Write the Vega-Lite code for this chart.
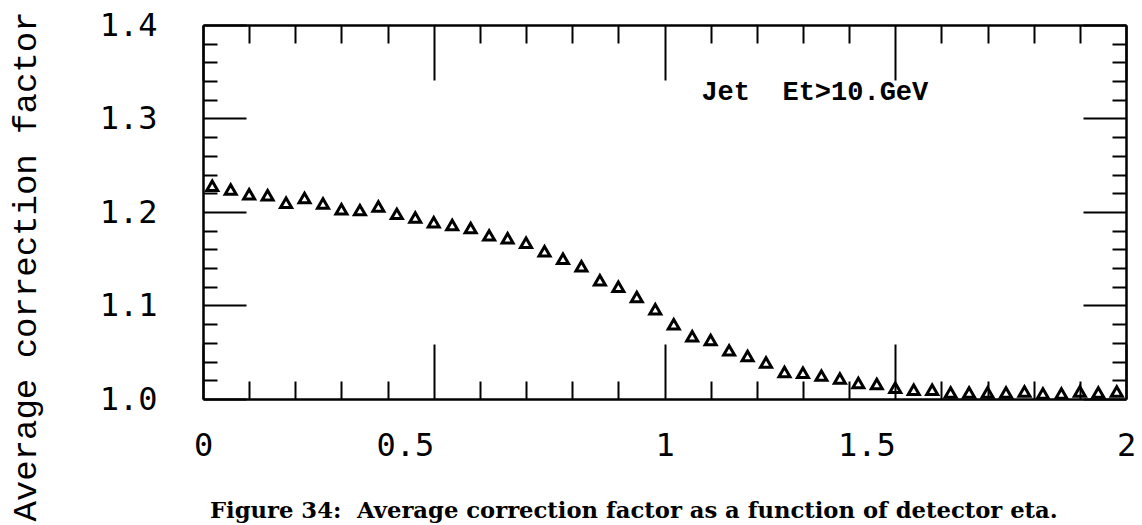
{
  "$schema": "https://vega.github.io/schema/vega-lite/v6.json",
  "width": 923,
  "height": 374,
  "autosize": "none",
  "padding": {"left": 203, "top": 25, "right": 16, "bottom": 126},
  "background": "white",
  "config": {
    "view": {"stroke": null},
    "axis": {
      "domainColor": "black",
      "domainWidth": 2.5,
      "tickColor": "black",
      "tickWidth": 2,
      "grid": false,
      "labelFont": "DejaVu Sans Mono",
      "labelFontSize": 32,
      "labelColor": "black",
      "labelOverlap": false,
      "labelFlush": false,
      "labelBound": false
    }
  },
  "title": {
    "text": "Figure 34:\u00a0 Average correction factor as a function of detector eta.",
    "orient": "bottom",
    "anchor": "start",
    "frame": "group",
    "offset": -21,
    "dx": 7,
    "font": "DejaVu Serif",
    "fontSize": 22.7,
    "fontWeight": "bold",
    "color": "black"
  },
  "datasets": {
    "pts": [
      {"eta": 0.02, "corr": 1.228},
      {"eta": 0.06, "corr": 1.224},
      {"eta": 0.10, "corr": 1.219},
      {"eta": 0.14, "corr": 1.218},
      {"eta": 0.18, "corr": 1.210},
      {"eta": 0.22, "corr": 1.215},
      {"eta": 0.26, "corr": 1.209},
      {"eta": 0.30, "corr": 1.203},
      {"eta": 0.34, "corr": 1.202},
      {"eta": 0.38, "corr": 1.206},
      {"eta": 0.42, "corr": 1.198},
      {"eta": 0.46, "corr": 1.194},
      {"eta": 0.50, "corr": 1.189},
      {"eta": 0.54, "corr": 1.186},
      {"eta": 0.58, "corr": 1.183},
      {"eta": 0.62, "corr": 1.175},
      {"eta": 0.66, "corr": 1.172},
      {"eta": 0.70, "corr": 1.167},
      {"eta": 0.74, "corr": 1.158},
      {"eta": 0.78, "corr": 1.150},
      {"eta": 0.82, "corr": 1.142},
      {"eta": 0.86, "corr": 1.127},
      {"eta": 0.90, "corr": 1.120},
      {"eta": 0.94, "corr": 1.109},
      {"eta": 0.98, "corr": 1.096},
      {"eta": 1.02, "corr": 1.080},
      {"eta": 1.06, "corr": 1.067},
      {"eta": 1.10, "corr": 1.063},
      {"eta": 1.14, "corr": 1.052},
      {"eta": 1.18, "corr": 1.046},
      {"eta": 1.22, "corr": 1.039},
      {"eta": 1.26, "corr": 1.029},
      {"eta": 1.30, "corr": 1.028},
      {"eta": 1.34, "corr": 1.025},
      {"eta": 1.38, "corr": 1.022},
      {"eta": 1.42, "corr": 1.017},
      {"eta": 1.46, "corr": 1.016},
      {"eta": 1.50, "corr": 1.012},
      {"eta": 1.54, "corr": 1.010},
      {"eta": 1.58, "corr": 1.010},
      {"eta": 1.62, "corr": 1.007},
      {"eta": 1.66, "corr": 1.007},
      {"eta": 1.70, "corr": 1.007},
      {"eta": 1.74, "corr": 1.007},
      {"eta": 1.78, "corr": 1.008},
      {"eta": 1.82, "corr": 1.006},
      {"eta": 1.86, "corr": 1.006},
      {"eta": 1.90, "corr": 1.008},
      {"eta": 1.94, "corr": 1.007},
      {"eta": 1.98, "corr": 1.008}
    ],
    "note": [
      {"eta": 1.08, "corr": 1.328, "label": "Jet\u00a0\u00a0Et>10.GeV"}
    ]
  },
  "layer": [
    {
      "data": {"name": "pts"},
      "mark": {
        "type": "point",
        "shape": "triangle-up",
        "filled": false,
        "stroke": "black",
        "strokeWidth": 3,
        "size": 120,
        "opacity": 1
      },
      "encoding": {
        "x": {
          "field": "eta",
          "type": "quantitative",
          "scale": {"domain": [0, 2], "nice": false, "zero": false},
          "axis": {
            "orient": "bottom",
            "title": null,
            "values": [0, 0.1, 0.2, 0.3, 0.4, 0.5, 0.6, 0.7, 0.8, 0.9, 1, 1.1, 1.2, 1.3, 1.4, 1.5, 1.6, 1.7, 1.8, 1.9, 2],
            "tickSize": {"condition": {"test": "abs(datum.value*2 - round(datum.value*2)) < 0.001", "value": -55}, "value": -18},
            "labelExpr": "abs(datum.value*2 - round(datum.value*2)) < 0.001 ? format(datum.value, '~g') : ''",
            "labelAlign": {"condition": {"test": "abs(datum.value - round(datum.value)) > 0.001", "value": "right"}, "value": "center"},
            "labelPadding": 86
          }
        },
        "y": {
          "field": "corr",
          "type": "quantitative",
          "scale": {"domain": [1.0, 1.4], "nice": false, "zero": false},
          "axis": {
            "orient": "left",
            "values": [1.0, 1.02, 1.04, 1.06, 1.08, 1.1, 1.12, 1.14, 1.16, 1.18, 1.2, 1.22, 1.24, 1.26, 1.28, 1.3, 1.32, 1.34, 1.36, 1.38, 1.4],
            "tickSize": {"condition": {"test": "abs(datum.value*10 - round(datum.value*10)) < 0.001", "value": -43}, "value": -14},
            "labelExpr": "abs(datum.value*10 - round(datum.value*10)) < 0.001 ? format(datum.value, '.1f') : ''",
            "labelPadding": 89,
            "title": "Average correction factor",
            "titleFont": "Liberation Mono",
            "titleFontSize": 34,
            "titleFontWeight": "normal",
            "titleColor": "black",
            "titleAngle": -90,
            "titleAnchor": "middle",
            "titleAlign": "center",
            "titleBaseline": "middle",
            "titleX": -178,
            "titleY": 241
          }
        }
      }
    },
    {
      "data": {"name": "note"},
      "mark": {
        "type": "text",
        "align": "left",
        "baseline": "middle",
        "font": "Liberation Mono",
        "fontSize": 27,
        "fontWeight": "bold",
        "color": "black"
      },
      "encoding": {
        "x": {
          "field": "eta",
          "type": "quantitative",
          "axis": {
            "orient": "top",
            "title": null,
            "labels": false,
            "values": [0, 0.1, 0.2, 0.3, 0.4, 0.5, 0.6, 0.7, 0.8, 0.9, 1, 1.1, 1.2, 1.3, 1.4, 1.5, 1.6, 1.7, 1.8, 1.9, 2],
            "tickSize": {"condition": {"test": "abs(datum.value*2 - round(datum.value*2)) < 0.001", "value": -55}, "value": -18}
          }
        },
        "y": {
          "field": "corr",
          "type": "quantitative",
          "axis": {
            "orient": "right",
            "title": null,
            "labels": false,
            "values": [1.0, 1.02, 1.04, 1.06, 1.08, 1.1, 1.12, 1.14, 1.16, 1.18, 1.2, 1.22, 1.24, 1.26, 1.28, 1.3, 1.32, 1.34, 1.36, 1.38, 1.4],
            "tickSize": {"condition": {"test": "abs(datum.value*10 - round(datum.value*10)) < 0.001", "value": -43}, "value": -14}
          }
        },
        "text": {"field": "label", "type": "nominal"}
      }
    }
  ],
  "resolve": {"axis": {"x": "independent", "y": "independent"}}
}
